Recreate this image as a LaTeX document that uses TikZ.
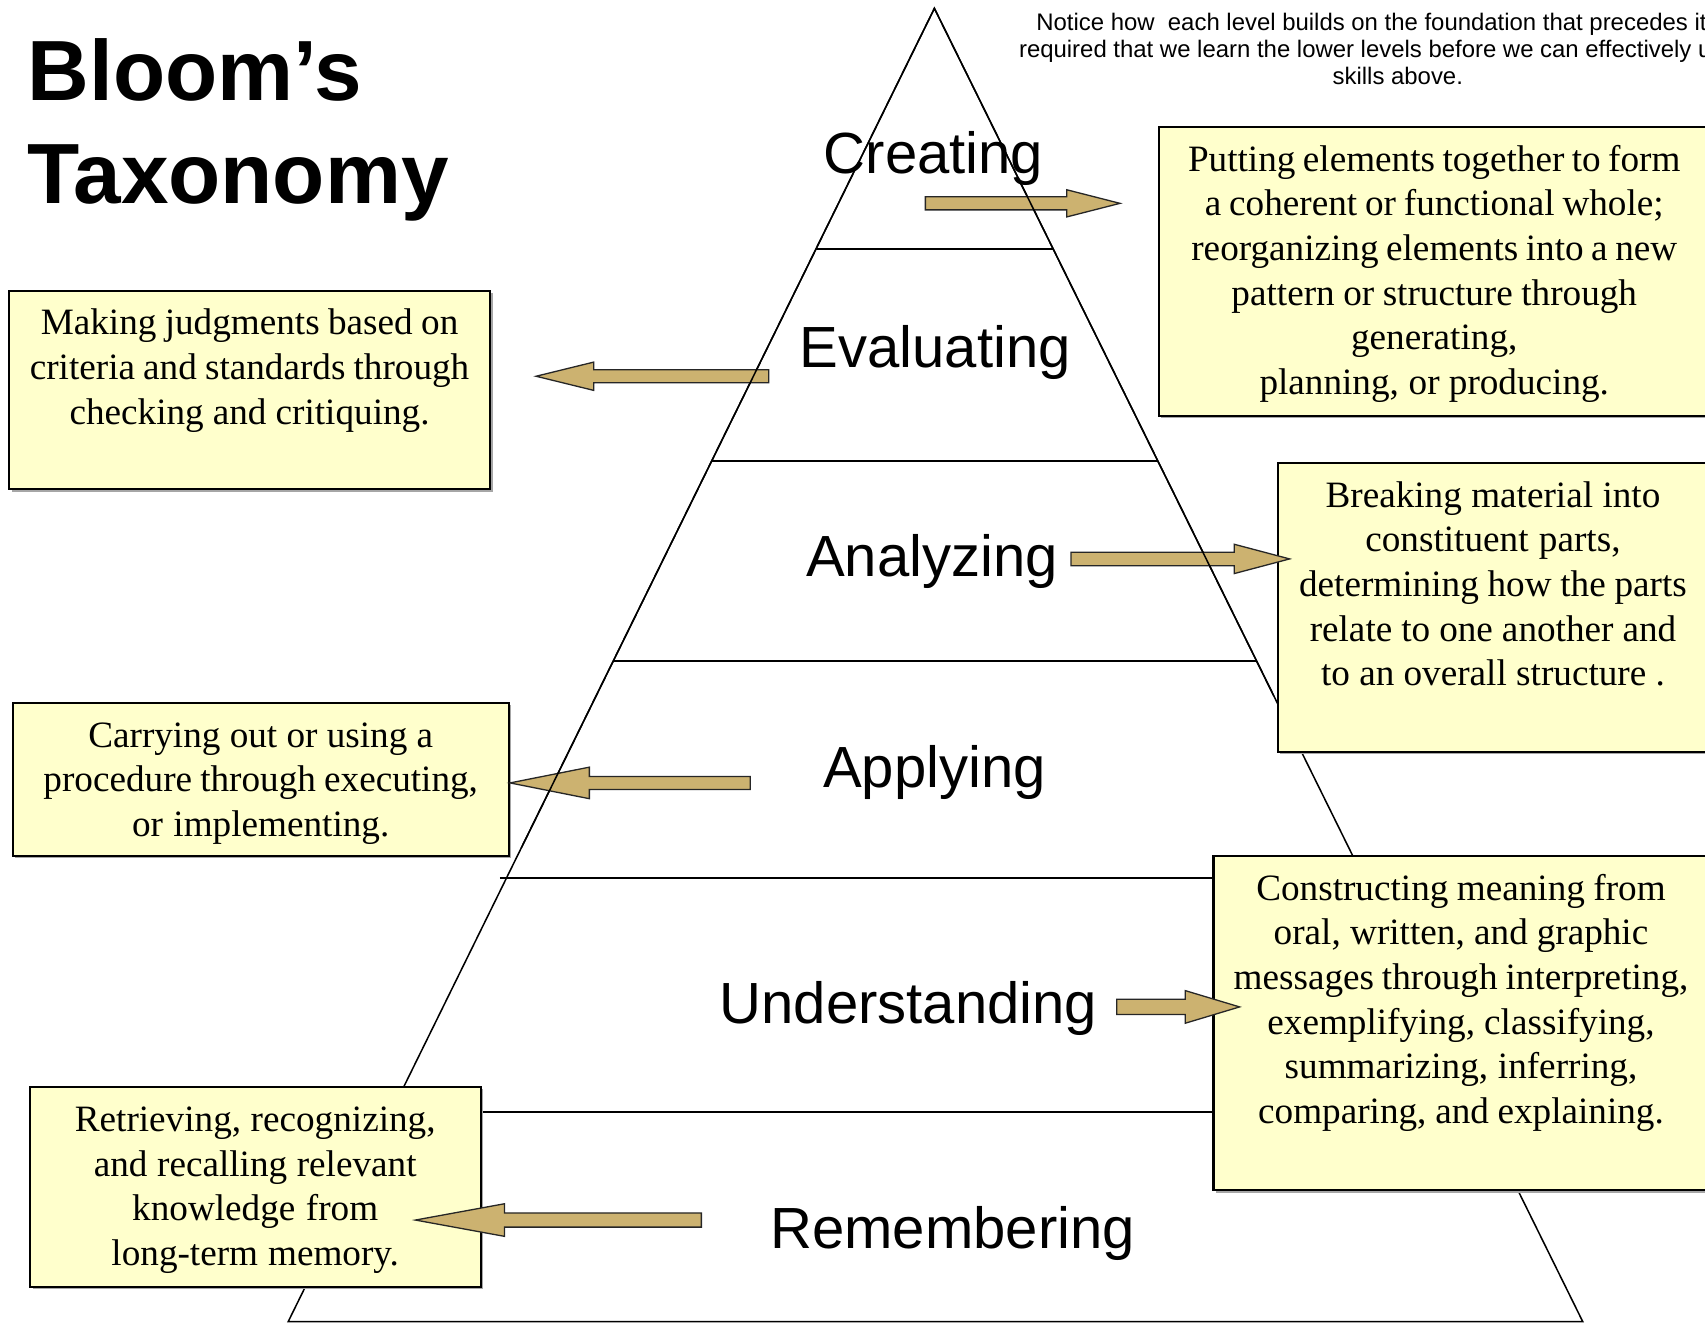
\documentclass[tikz,border=0pt]{standalone}
\usepackage{fontspec}
\setmainfont{Liberation Serif}
\setsansfont{Liberation Sans}
\usetikzlibrary{calc}
\definecolor{boxfill}{RGB}{255,255,204}
\definecolor{arrowfill}{RGB}{204,178,112}
\newcommand\blockarr[6]{\draw[blockarrow] (#1,#4-#5) -- (#2,#4-#5) -- (#2,#4-#6) -- (#3,#4) -- (#2,#4+#6) -- (#2,#4+#5) -- (#1,#4+#5) -- cycle;}
\newcommand\tightspaces{\spaceskip=0.19em plus 0.05em\relax}
\begin{document}
\begin{tikzpicture}[x=0.5pt,y=-0.5pt,
  pyr/.style={line width=0.7pt},
  level/.style={line width=0.9pt},
  descbox/.style={draw=black, line width=1pt, fill=boxfill},
  boxshadow/.style={fill=black!35},
  desctext/.style={font=\fontsize{17.1}{20.5}\selectfont, align=center, text width=240pt, anchor=base, inner sep=0pt},
  levellabel/.style={font=\sffamily\fontsize{26.7}{30}\selectfont, anchor=base, inner sep=0pt},
  titletext/.style={font=\sffamily\bfseries\fontsize{39.3}{46}\selectfont, anchor=base west, inner sep=0pt},
  notetext/.style={font=\sffamily\fontsize{11}{13}\selectfont, anchor=base, inner sep=0pt},
  blockarrow/.style={draw=black!85, line width=0.6pt, fill=arrowfill, line join=miter}
]
\path[use as bounding box] (0,0) rectangle (1568,1217.6);
\clip (0,0) rectangle (1568,1217.6);

% ---------- pyramid ----------
\coordinate (apex) at (859.3,7.7);
\coordinate (bl) at (265,1215.5);
\coordinate (br) at (1455.6,1215.5);
\draw[pyr] (apex) -- (bl) -- (br) -- cycle;
\draw[level] ($(apex)!0.1832!(bl)$) -- ($(apex)!0.1832!(br)$);
\draw[level] ($(apex)!0.3447!(bl)$) -- ($(apex)!0.3447!(br)$);
\draw[level] ($(apex)!0.4966!(bl)$) -- ($(apex)!0.4966!(br)$);
\draw[level] ($(apex)!0.6621!(bl)+(-6,0)$) -- ($(apex)!0.6621!(br)$);
\draw[level] ($(apex)!0.8403!(bl)$) -- ($(apex)!0.8403!(br)$);

% ---------- description boxes ----------
\foreach \a/\b/\c/\d in {1065.6/116.5/1575/382.3, 1175/425.5/1575/691.3, 1116/787.2/1575/1094.4,
                         8.4/267.3/450.5/449.7, 11.7/646.2/467.8/786.9, 27.4/999.3/442/1183.3}{
  \fill[boxshadow] (\a+2.5,\b+2.5) rectangle (\c+2.5,\d+2.5);
  \draw[descbox] (\a,\b) rectangle (\c,\d);
}

\node[desctext] (dcreate) at (1319,157.5) {\tightspaces Putting elements together to form\\a coherent or functional whole;\\reorganizing elements into a new\\pattern or structure through\\generating,\\planning, or producing.};
\node[desctext] (danalyze) at (1373,466.5) {\tightspaces Breaking material into\\constituent parts,\\determining how the parts\\relate to one another and\\to an overall structure .};
\node[desctext] (dunderstand) at (1343.6,828) {\tightspaces Constructing meaning from\\oral, written, and graphic\\messages through interpreting,\\exemplifying, classifying,\\summarizing, inferring,\\comparing, and explaining.};
\node[desctext] (devaluate) at (229.5,308) {\tightspaces Making judgments based on\\criteria and standards through\\checking and critiquing.};
\node[desctext] (dapply) at (239.8,687) {\tightspaces Carrying out or using a\\procedure through executing,\\or implementing.};
\node[desctext] (dremember) at (234.7,1040.5) {\tightspaces Retrieving, recognizing,\\and recalling relevant\\knowledge from\\long-term memory.};

% ---------- level labels ----------
\node[levellabel] (lcreate) at (858.5,160) {Creating};
\node[levellabel] (levaluate) at (860,338) {Evaluating};
\node[levellabel] (lanalyze) at (857,530) {Analyzing};
\node[levellabel] (lapply) at (859.5,724) {Applying};
\node[levellabel] (lunderstand) at (835.5,941) {Understanding};
\node[levellabel] (lremember) at (876,1148) {Remembering};

% ---------- title and note ----------
\node[titletext] (title1) at (25,92) {Bloom’s};
\node[titletext] (title2) at (25,187) {Taxonomy};
\node[notetext] (note1) at (1285.5,27.6) {Notice how~ each level builds on the foundation that precedes it. It is};
\node[notetext] (note2) at (1285.5,52.5) {required that we learn the lower levels before we can effectively use the};
\node[notetext] (note3) at (1285.5,78) {skills above.};

% ---------- block arrows ----------
\blockarr{851}{981}{1030}{187}{6}{12.5}
\blockarr{707}{546}{493}{346}{6}{13}
\blockarr{985}{1135}{1186}{514}{6.2}{13.5}
\blockarr{690}{542}{469}{720}{6}{14.5}
\blockarr{1027}{1090}{1140}{926}{7}{15}
\blockarr{645}{464}{382}{1122}{6.5}{15}

% pyramid edges pass over the upper arrows
\draw[pyr] ($(apex)!0.6394!(bl)$) -- (apex) -- ($(apex)!0.5235!(br)$);
\end{tikzpicture}
\end{document}
